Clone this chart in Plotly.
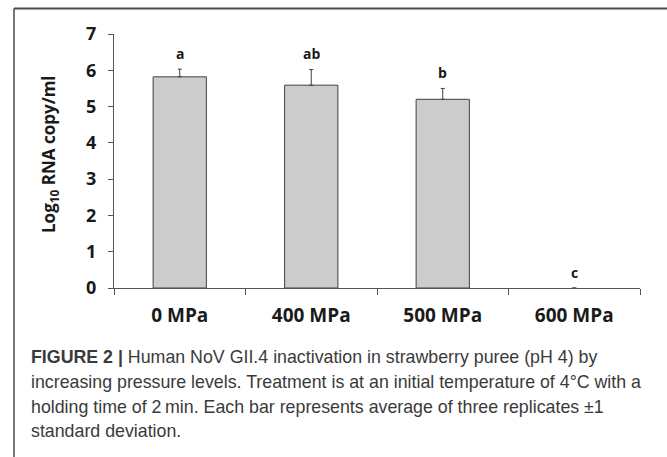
import plotly.graph_objects as go

# ---- data ----
categories = ["0 MPa", "400 MPa", "500 MPa", "600 MPa"]
log_rna = [5.82, 5.59, 5.20, 0.0]
std_dev = [0.21, 0.43, 0.30, 0.0]
sig_letters = ["a", "ab", "b", "c"]
y_ticks = [0, 1, 2, 3, 4, 5, 6, 7]

caption_lines = [
    "<b>FIGURE 2 |</b> Human NoV GII.4 inactivation in strawberry puree (pH 4) by",
    "increasing pressure levels. Treatment is at an initial temperature of 4°C with a",
    "holding time of 2\u2009min. Each bar represents average of three replicates ±1",
    "standard deviation.",
]

# ---- layout geometry (pixels) ----
W, H = 667, 457
L, R, T, B = 114, 27, 34, 169
PW, PH = W - L - R, H - T - B


def px(xp):
    return (xp - L) / PW


def py(yp):
    return (H - B - yp) / PH


AXC = "#555555"
TXT = "#1a1a1a"

fig = go.Figure()
fig.add_trace(go.Bar(
    x=categories, y=log_rna, width=0.405,
    marker=dict(color="#cccccc",
                line=dict(color="#404040", width=[1 if v > 0 else 0 for v in log_rna])),
    error_y=dict(type="data",
                 array=[e if e > 0 else None for e in std_dev],
                 arrayminus=[0 if e > 0 else None for e in std_dev],
                 symmetric=False, color="#404040", thickness=1, width=2),
    showlegend=False, hoverinfo="skip",
))

tops = [v + e for v, e in zip(log_rna, std_dev)]
for cat, top, lab in zip(categories, tops, sig_letters):
    fig.add_annotation(x=cat, y=top, text=lab, showarrow=False,
                       yanchor="middle", yshift=16,
                       font=dict(family="Open Sans", size=14, color=TXT, weight="bold"))

# y-axis title
fig.add_annotation(xref="paper", yref="paper", x=px(49), y=py(154),
                   text="Log<sub>10</sub> RNA copy/ml", textangle=-90,
                   showarrow=False, xanchor="center", yanchor="middle",
                   font=dict(family="Open Sans", size=17, color=TXT, weight="bold"))

# caption
cap_y = [357, 382, 407, 431]
for line, yy in zip(caption_lines, cap_y):
    fig.add_annotation(xref="paper", yref="paper", x=px(29), y=py(yy),
                       text=line, showarrow=False, xanchor="left", yanchor="middle",
                       font=dict(family="Liberation Sans", size=17.8, color="#3a3a3a"))

# frame border (top + left, extending beyond the page)
fig.add_shape(type="line", xref="paper", yref="paper",
              x0=px(14), y0=py(8.5), x1=px(700), y1=py(8.5),
              line=dict(color="#4a4a4a", width=2))
fig.add_shape(type="line", xref="paper", yref="paper",
              x0=px(14), y0=py(8.5), x1=px(14), y1=py(480),
              line=dict(color="#4a4a4a", width=1.5))

fig.update_layout(
    width=W, height=H,
    margin=dict(l=L, r=R, t=T, b=B),
    paper_bgcolor="white", plot_bgcolor="white",
    bargap=0.6,
    xaxis=dict(
        type="category", tickson="boundaries", ticks="outside", ticklen=6,
        tickcolor=AXC, showline=True, linecolor=AXC, linewidth=1,
        showgrid=False, zeroline=False, ticklabelstandoff=10,
        tickfont=dict(family="Open Sans", size=19, color=TXT, weight="bold"),
    ),
    yaxis=dict(
        range=[0, 7], tickvals=y_ticks, ticks="outside", ticklen=5,
        tickcolor=AXC, showline=True, linecolor=AXC, linewidth=1,
        showgrid=False, zeroline=False, ticklabelstandoff=8,
        tickfont=dict(family="Open Sans", size=18, color=TXT, weight="bold"),
    ),
)

fig.write_html("out.html", config={"displayModeBar": False},
               post_script="document.body.style.margin='0px';")
